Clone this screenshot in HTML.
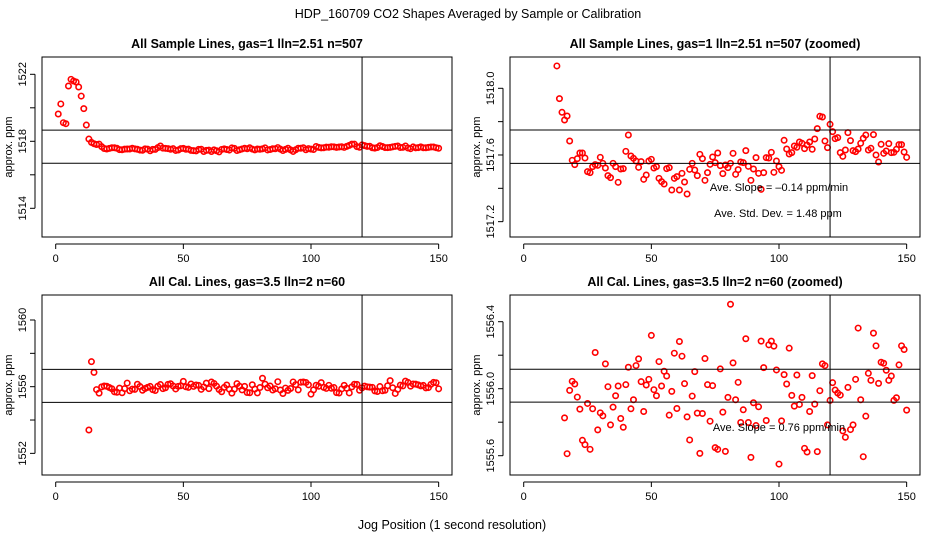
<!DOCTYPE html>
<html><head><meta charset="utf-8"><style>
html,body{margin:0;padding:0;background:#fff;width:936px;height:540px;overflow:hidden;}
svg{display:block;font-family:"Liberation Sans",sans-serif;}
</style></head><body>
<svg id="fig" width="936" height="540" viewBox="0 0 936 540" xmlns="http://www.w3.org/2000/svg">
<text x="468" y="18" text-anchor="middle" font-size="12.5">HDP_160709  CO2 Shapes Averaged by Sample or Calibration</text>
<text x="452" y="529" text-anchor="middle" font-size="12.5">Jog Position (1 second resolution)</text>
</svg>
<script>
// Sample series: x = 1..150
const sampleStart = 1;
const sampleValues = [1519.63,1520.23,1519.11,1519.05,1521.3,1521.7,1521.6,1521.54,1521.24,1520.7,1519.95,1518.97,
1518.134,1517.938,1517.856,1517.81,1517.834,1517.684,1517.568,1517.542,1517.578,1517.612,1517.612,1517.582,1517.5,1517.494,1517.53,1517.542,1517.538,1517.586,
1517.55,1517.522,1517.476,1517.464,1517.55,1517.53,1517.436,1517.516,1517.518,1517.622,1517.72,1517.594,1517.58,1517.564,1517.526,1517.56,1517.454,1517.48,1517.564,1517.574,
1517.522,1517.53,1517.46,1517.44,1517.426,1517.518,1517.524,1517.39,1517.46,1517.47,1517.39,1517.49,1517.438,1517.366,1517.514,1517.55,1517.51,1517.476,1517.604,1517.578,
1517.448,1517.494,1517.544,1517.588,1517.554,1517.612,1517.536,1517.488,1517.54,1517.524,1517.55,1517.61,1517.484,1517.512,1517.558,1517.554,1517.626,1517.532,1517.448,1517.516,
1517.584,1517.49,1517.394,1517.494,1517.584,1517.582,1517.616,1517.496,1517.564,1517.53,1517.508,1517.688,1517.636,1517.606,1517.614,1517.654,1517.646,1517.678,1517.67,1517.638,
1517.66,1517.678,1517.634,1517.696,1517.758,1517.832,1517.828,1517.684,1517.644,1517.784,1517.74,1517.698,1517.704,1517.614,1517.592,1517.63,1517.734,1517.686,1517.626,1517.62,
1517.636,1517.67,1517.7,1517.72,1517.63,1517.64,1517.722,1517.6,1517.558,1517.664,1517.61,1517.624,1517.668,1517.614,1517.616,1517.634,1517.662,1517.662,1517.618,1517.586];
// Calibration series: x = 13..150
const calStart = 13;
const calValues = [1553.4,1557.5,1556.86,
1555.826,1555.612,1555.99,1556.044,1556.028,1555.95,1555.878,1555.692,1555.666,1555.912,1555.638,1555.88,1556.216,1555.754,1555.856,
1555.838,1556.148,1556.012,1555.784,1555.89,1555.958,1556.016,1555.822,1555.77,1556.024,1556.128,1555.88,1555.934,1556.138,1556.178,1556.042,1555.864,1556.022,1556.056,1556.318,
1555.994,1555.958,1556.162,1556.016,1556.104,1556.076,1555.842,1555.984,1556.212,1555.882,1556.282,1556.194,1556.03,1555.832,1555.694,1555.956,1556.102,1555.854,1555.614,1555.852,
1556.18,1556.024,1555.806,1556.018,1555.648,1555.638,1556.118,1555.86,1555.626,1555.948,1556.504,1556.154,1555.934,1556.038,1555.798,1555.874,1556.298,1555.798,1555.59,1555.916,
1555.78,1555.892,1556.284,1556.126,1555.81,1556.262,1556.284,1556.254,1556.112,1555.55,1555.808,1556.084,1556.028,1556.242,1555.96,1555.896,1556.082,1555.906,1555.948,1555.644,
1555.622,1555.864,1556.078,1555.908,1555.624,1555.988,1556.148,1556.138,1555.784,1555.93,1556.036,1555.992,1555.974,1555.962,1555.748,1555.71,1556.008,1555.756,1555.784,1556.056,
1556.362,1555.934,1555.594,1555.836,1556.092,1556.05,1556.332,1556.256,1556.032,1556.158,1556.152,1556.11,1556.05,1556.076,1555.93,1555.946,1556.142,1556.256,1556.234,1555.872];
const xTicks = [0,50,100,150];
const yTicksP1 = [1514,1516,1518,1520,1522];
const yLabelsP1 = ["1514","","1518","","1522"];
const yTicksP2 = [1517.2,1517.4,1517.6,1517.8,1518.0];
const yLabelsP2 = ["1517.2","","1517.6","","1518.0"];
const yTicksP3 = [1552,1554,1556,1558,1560];
const yLabelsP3 = ["1552","","1556","","1560"];
const yTicksP4 = [1555.6,1555.8,1556.0,1556.2,1556.4];
const yLabelsP4 = ["1555.6","","1556.0","","1556.4"];
const hLinesP1 = [1518.67,1516.69];
const hLinesP2 = [1517.75,1517.55];
const hLinesP3 = [1557.04,1555.06];
const hLinesP4 = [1556.116,1555.92];
const vLine = 120;

const NS = "http://www.w3.org/2000/svg";
const svg = document.getElementById('fig');
function mk(tag, attrs, parent){const e=document.createElementNS(NS,tag);for(const k in attrs)e.setAttribute(k,attrs[k]);(parent||svg).appendChild(e);return e;}

function panel(cfg){
  const g = mk('g',{});
  
  
  const L=cfg.left, R=cfg.left+410, T=cfg.top, B=cfg.top+180;
  const xS = v => cfg.left+13.7 + v*2.553;
  const yS = v => cfg.y0px + (v - cfg.y0)*cfg.ppu;
  const t = mk('text',{x:(L+R)/2,y:T-9,'text-anchor':'middle','font-size':'12.5','font-weight':'bold'},g);
  t.textContent = cfg.title;
  
  
  const yl = mk('text',{x:0,y:0,'text-anchor':'middle','font-size':'11',transform:`translate(${L-30},${(T+B)/2}) rotate(-90)`},g);
  yl.textContent='approx. ppm';
  
  
  const cid='clip'+cfg.id;
  const cp=mk('clipPath',{id:cid},g); mk('rect',{x:L,y:T,width:R-L,height:B-T},cp);
  const pts=mk('g',{'clip-path':`url(#${cid})`},g);
  
  
  cfg.values.forEach((v,i)=>{
    const c=mk('circle',{cx:xS(cfg.start+i),cy:yS(v),r:2.7,fill:'none',stroke:'#f00','stroke-width':1.6},pts);
    
    
  });
  cfg.hlines.forEach(h=>{
    const l=mk('line',{x1:L,x2:R,y1:yS(h),y2:yS(h),stroke:'#000','stroke-width':1},g);
    
    
  });
  const vl=mk('line',{x1:xS(vLine),x2:xS(vLine),y1:T,y2:B,stroke:'#000','stroke-width':1},g);
  
  
  const box=mk('rect',{x:L,y:T,width:R-L,height:B-T,fill:'none',stroke:'#000','stroke-width':1},g);
  
  
  const xa=mk('g',{},g);
  
  
  mk('line',{x1:xS(xTicks[0]),x2:xS(xTicks[xTicks.length-1]),y1:B+7,y2:B+7,stroke:'#000'},xa);
  xTicks.forEach(v=>{
    mk('line',{x1:xS(v),x2:xS(v),y1:B+7,y2:B+12,stroke:'#000'},xa);
    const tx=mk('text',{x:xS(v),y:B+25,'text-anchor':'middle','font-size':'11'},xa);
    tx.textContent=String(v);
  });
  const ya=mk('g',{},g);
  
  
  mk('line',{x1:L-7,x2:L-7,y1:yS(cfg.yticks[0]),y2:yS(cfg.yticks[cfg.yticks.length-1]),stroke:'#000'},ya);
  cfg.yticks.forEach((v,i)=>{
    mk('line',{x1:L-12,x2:L-7,y1:yS(v),y2:yS(v),stroke:'#000'},ya);
    if(cfg.ylabels[i]){
      const tx=mk('text',{x:0,y:0,'text-anchor':'middle','font-size':'11',transform:`translate(${L-16},${yS(v)}) rotate(-90)`},ya);
      tx.textContent=cfg.ylabels[i];
    }
  });
  (cfg.notes||[]).forEach(n=>{
    const tx=mk('text',{x:n.x,y:n.y,'text-anchor':'middle','font-size':'11'},g);
    tx.textContent=n.text;
    
    
  });
}

panel({id:1,name:'panel-sample',left:42,top:57,title:'All Sample Lines, gas=1 lln=2.51 n=507',values:sampleValues,start:sampleStart,
  y0:1522,y0px:74.3,ppu:-16.75,yticks:yTicksP1,ylabels:yLabelsP1,hlines:hLinesP1});
panel({id:2,name:'panel-sample-zoomed',left:510,top:57,title:'All Sample Lines, gas=1 lln=2.51 n=507 (zoomed)',values:sampleValues,start:sampleStart,
  y0:1518.0,y0px:88.3,ppu:-166.7,yticks:yTicksP2,ylabels:yLabelsP2,hlines:hLinesP2,
  notes:[{x:779,y:191,text:'Ave. Slope =  \u20130.14  ppm/min'},{x:778,y:217,text:'Ave. Std. Dev. =  1.48  ppm'}]});
panel({id:3,name:'panel-cal',left:42,top:295,title:'All Cal. Lines, gas=3.5 lln=2 n=60',values:calValues,start:calStart,
  y0:1560,y0px:320,ppu:-16.67,yticks:yTicksP3,ylabels:yLabelsP3,hlines:hLinesP3});
panel({id:4,name:'panel-cal-zoomed',left:510,top:295,title:'All Cal. Lines, gas=3.5 lln=2 n=60 (zoomed)',values:calValues,start:calStart,
  y0:1556.4,y0px:321.7,ppu:-167.5,yticks:yTicksP4,ylabels:yLabelsP4,hlines:hLinesP4,
  notes:[{x:779,y:431,text:'Ave. Slope =  0.76  ppm/min'}]});
</script>
</body></html>
